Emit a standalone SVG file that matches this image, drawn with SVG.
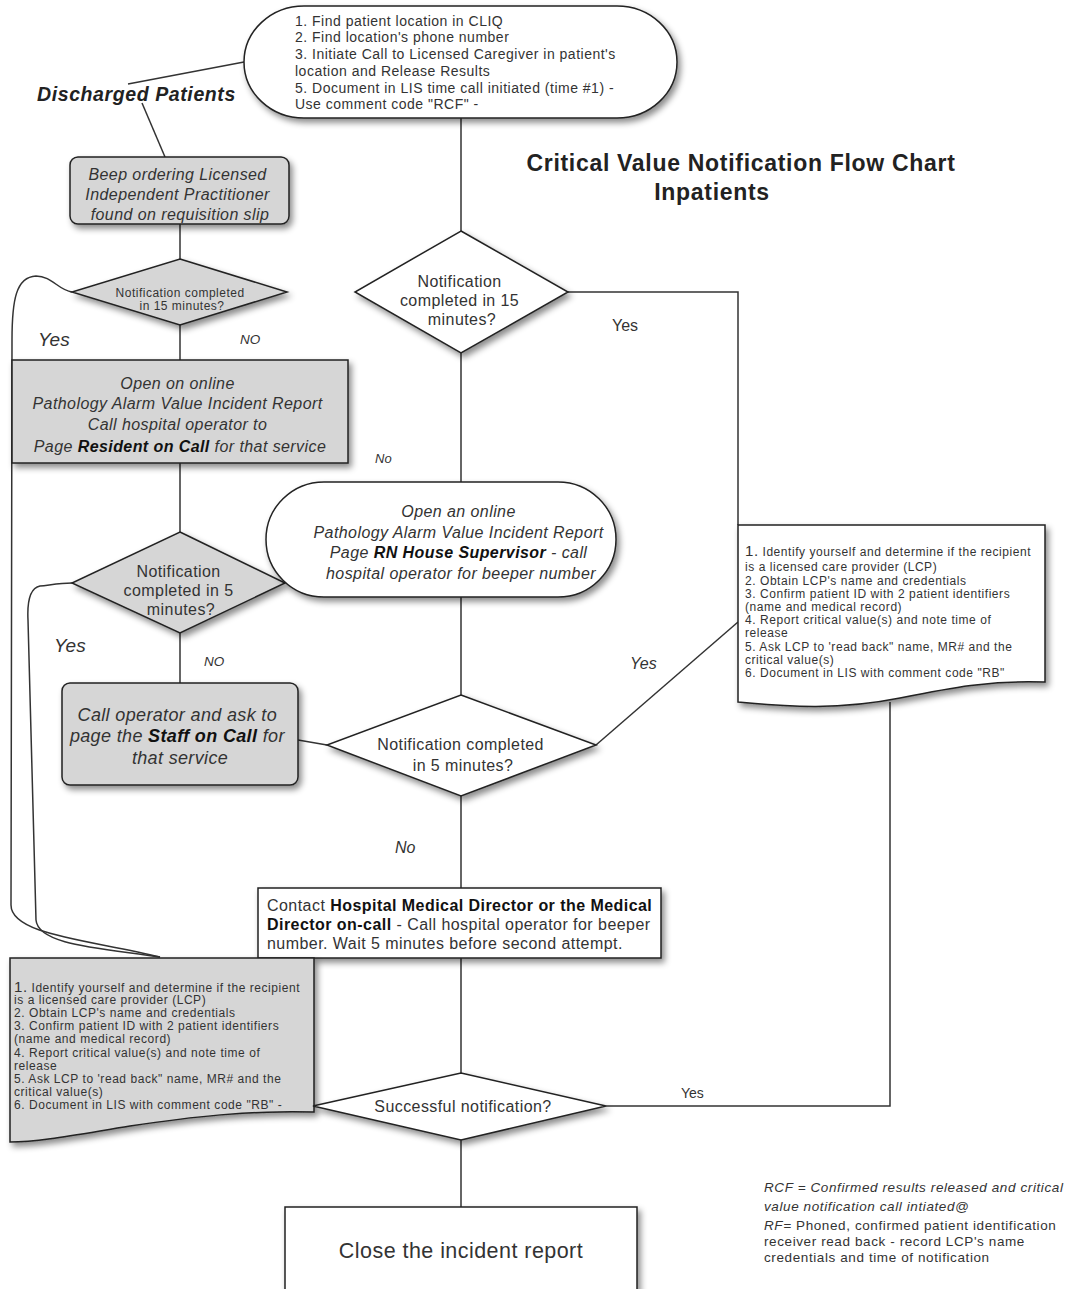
<svg xmlns="http://www.w3.org/2000/svg" width="1068" height="1289" viewBox="0 0 1068 1289">
<style>
text{font-family:"Liberation Sans",Arial,sans-serif;fill:#333}
.s{stroke:#222;stroke-width:1.5}
.w{fill:#fff}
.g{fill:#d6d6d6}
.c{text-anchor:middle}
.i{font-style:italic}
.b{font-weight:bold;fill:#111}
.ln{fill:none;stroke:#333;stroke-width:1.5}
.doc{font-size:12px;letter-spacing:0.55px}
.m16{font-size:16px;letter-spacing:0.42px}
</style>
<defs>
<filter id="sh" x="-20%" y="-20%" width="140%" height="150%">
<feDropShadow dx="3" dy="4" stdDeviation="3" flood-color="#000" flood-opacity="0.45"/>
</filter>
</defs>
<rect width="1068" height="1289" fill="#fff"/>

<g id="connectors">
<path class="ln" d="M461,118 V231"/>
<path class="ln" d="M568,292 H738 V525"/>
<path class="ln" d="M461,353 V482"/>
<path class="ln" d="M461,597 V695"/>
<path class="ln" d="M596,745 L738,622"/>
<path class="ln" d="M298,740 L327,745"/>
<path class="ln" d="M461,796 V888"/>
<path class="ln" d="M461,958 V1073"/>
<path class="ln" d="M606,1106 H890 V702"/>
<path class="ln" d="M461,1140 V1207"/>
<path class="ln" d="M128,84 L244,62"/>
<path class="ln" d="M142,103 L165,157"/>
<path class="ln" d="M180,224 V259"/>
<path class="ln" d="M180,325 V360"/>
<path class="ln" d="M180,463 V532"/>
<path class="ln" d="M180,633 V683"/>
<path class="ln" d="M72,292 C58,290 52,276 36,276 C16,277 12,300 12,340 L11,905 C11,935 90,940 160,957"/>
<path class="ln" d="M72,583 C60,583 50,585 40,586 C30,588 27,600 28,620 L36,920 C38,945 100,948 160,957"/>
<text x="612" y="331" font-size="16">Yes</text>
<text x="375" y="463" class="i" font-size="13">No</text>
<text x="630" y="669" class="i" font-size="16">Yes</text>
<text x="395" y="853" class="i" font-size="16">No</text>
<text x="681" y="1098" font-size="14">Yes</text>
<text x="38" y="346" class="i" font-size="19">Yes</text>
<text x="240" y="344" class="i" font-size="13.5">NO</text>
<text x="54" y="652" class="i" font-size="19">Yes</text>
<text x="204" y="666" class="i" font-size="13.5">NO</text>
</g>

<g id="title">
<text x="741" y="171" class="c b" font-size="23" style="fill:#222;letter-spacing:0.7px">Critical Value Notification Flow Chart</text>
<text x="712" y="200" class="c b" font-size="23" style="fill:#222;letter-spacing:0.7px">Inpatients</text>
</g>

<g id="start">
<rect x="244" y="6" width="433" height="112" rx="60" ry="56" class="s w" filter="url(#sh)"/>
<text font-size="14" style="letter-spacing:0.5px">
<tspan x="295" y="26">1. Find patient location in CLIQ</tspan>
<tspan x="295" y="42">2. Find location's phone number</tspan>
<tspan x="295" y="59">3. Initiate Call  to Licensed Caregiver  in patient's</tspan>
<tspan x="295" y="76">location and Release Results</tspan>
<tspan x="295" y="93">5. Document in LIS time call initiated (time #1) -</tspan>
<tspan x="295" y="109">Use comment code "RCF" -</tspan>
</text>
</g>

<g id="discharged">
<text x="37" y="101" class="b i" font-size="19.5" style="fill:#222;letter-spacing:0.6px">Discharged Patients</text>
</g>

<g id="beep">
<rect x="70" y="157" width="219" height="67" rx="8" class="s g" filter="url(#sh)"/>
<text class="c i m16">
<tspan x="180" y="180">Beep ordering Licensed</tspan>
<tspan x="180" y="200">Independent Practitioner</tspan>
<tspan x="180" y="220">found on requisition slip</tspan>
</text>
</g>

<g id="dec15left">
<polygon points="180,259 287,292 180,325 72,292" class="s g" filter="url(#sh)"/>
<text class="c" font-size="12" style="letter-spacing:0.5px">
<tspan x="182" y="297">Notification completed</tspan>
<tspan x="182" y="310">in 15 minutes?</tspan>
</text>
</g>

<g id="resident">
<rect x="12" y="360" width="336" height="103" class="s g" filter="url(#sh)"/>
<text class="c i m16">
<tspan x="180" y="389">Open on online</tspan>
<tspan x="180" y="409">Pathology Alarm Value Incident Report</tspan>
<tspan x="180" y="430">Call hospital operator to</tspan>
<tspan x="180" y="452">Page <tspan class="b">Resident on Call</tspan> for that service</tspan>
</text>
</g>

<g id="dec5left">
<polygon points="180,532 285,583 180,633 72,583" class="s g" filter="url(#sh)"/>
<text class="c m16">
<tspan x="181" y="577">Notification</tspan>
<tspan x="181" y="596">completed in 5</tspan>
<tspan x="181" y="615">minutes?</tspan>
</text>
</g>

<g id="staff">
<rect x="62" y="683" width="236" height="102" rx="8" class="s g" filter="url(#sh)"/>
<text class="c i" font-size="18" style="letter-spacing:0.35px">
<tspan x="180" y="721">Call operator and ask to</tspan>
<tspan x="180" y="742">page the <tspan class="b">Staff on Call</tspan> for</tspan>
<tspan x="180" y="764">that service</tspan>
</text>
</g>

<g id="dec15">
<polygon points="461,231 568,292 461,353 355,292" class="s w" filter="url(#sh)"/>
<text class="c m16">
<tspan x="462" y="287">Notification</tspan>
<tspan x="462" y="306">completed in 15</tspan>
<tspan x="462" y="325">minutes?</tspan>
</text>
</g>

<g id="rnsup">
<rect x="266" y="482" width="350" height="115" rx="58" class="s w" filter="url(#sh)"/>
<text class="c i m16">
<tspan x="461" y="517">Open an online</tspan>
<tspan x="461" y="538">Pathology Alarm Value Incident Report</tspan>
<tspan x="461" y="558">Page <tspan class="b">RN House Supervisor</tspan>  - call</tspan>
<tspan x="461" y="579">hospital operator for beeper number</tspan>
</text>
</g>

<g id="dec5">
<polygon points="461,695 596,745 461,796 327,745" class="s w" filter="url(#sh)"/>
<text class="c m16">
<tspan x="463" y="750">Notification completed</tspan>
<tspan x="463" y="771">in 5 minutes?</tspan>
</text>
</g>

<g id="docright">
<path d="M738,525 H1045 V682 C990,680 950,688 900,698 C840,710 790,707 738,702 Z" class="s w" filter="url(#sh)"/>
<text class="doc">
<tspan x="745" y="556"><tspan font-size="15">1.</tspan> Identify yourself and determine if the recipient</tspan>
<tspan x="745" y="571">is a licensed care provider (LCP)</tspan>
<tspan x="745" y="585">2. Obtain LCP's name and credentials</tspan>
<tspan x="745" y="598">3. Confirm patient ID with 2 patient identifiers</tspan>
<tspan x="745" y="611">(name and medical record)</tspan>
<tspan x="745" y="624">4. Report critical value(s) and note time of</tspan>
<tspan x="745" y="637">release</tspan>
<tspan x="745" y="651">5. Ask LCP to 'read back" name, MR# and the</tspan>
<tspan x="745" y="664">critical value(s)</tspan>
<tspan x="745" y="677">6. Document in LIS with comment code "RB"</tspan>
</text>
</g>

<g id="director">
<rect x="258" y="888" width="403" height="70" class="s w" filter="url(#sh)"/>
<text font-size="16" style="letter-spacing:0.45px">
<tspan x="267" y="911">Contact <tspan class="b">Hospital Medical Director or the Medical</tspan></tspan>
<tspan x="267" y="930"><tspan class="b">Director on-call</tspan> - Call hospital operator for beeper</tspan>
<tspan x="267" y="949">number.  Wait 5 minutes before second attempt.</tspan>
</text>
</g>

<g id="docleft">
<path d="M10,958 H314 V1112 C250,1110 190,1117 130,1126 C80,1134 40,1142 10,1142 Z" class="s g" filter="url(#sh)"/>
<text class="doc">
<tspan x="14" y="992"><tspan font-size="15">1.</tspan> Identify yourself and determine if the recipient</tspan>
<tspan x="14" y="1004">is a licensed care provider (LCP)</tspan>
<tspan x="14" y="1017">2. Obtain LCP's name and credentials</tspan>
<tspan x="14" y="1030">3. Confirm patient ID with 2 patient identifiers</tspan>
<tspan x="14" y="1043">(name and medical record)</tspan>
<tspan x="14" y="1057">4. Report critical value(s) and note time of</tspan>
<tspan x="14" y="1070">release</tspan>
<tspan x="14" y="1083">5. Ask LCP to 'read back" name, MR# and the</tspan>
<tspan x="14" y="1096">critical value(s)</tspan>
<tspan x="14" y="1109">6. Document in LIS with comment code "RB" -</tspan>
</text>
</g>

<g id="success">
<polygon points="461,1073 606,1106 461,1140 313,1106" class="s w" filter="url(#sh)"/>
<text x="463" y="1112" class="c m16">Successful notification?</text>
</g>

<g id="close">
<rect x="285" y="1207" width="352" height="95" class="s w" filter="url(#sh)"/>
<text x="461" y="1258" class="c" font-size="21.5" style="letter-spacing:0.45px">Close the incident report</text>
</g>

<g id="notes">
<text font-size="13.5" style="letter-spacing:0.6px">
<tspan x="764" y="1192" class="i">RCF = Confirmed results released and critical</tspan>
<tspan x="764" y="1211" class="i">value notification call intiated@</tspan>
<tspan x="764" y="1230"><tspan class="i">RF=</tspan> Phoned, confirmed patient identification</tspan>
<tspan x="764" y="1246">receiver read back - record LCP's name</tspan>
<tspan x="764" y="1262">credentials and time of notification</tspan>
</text>
</g>
</svg>
